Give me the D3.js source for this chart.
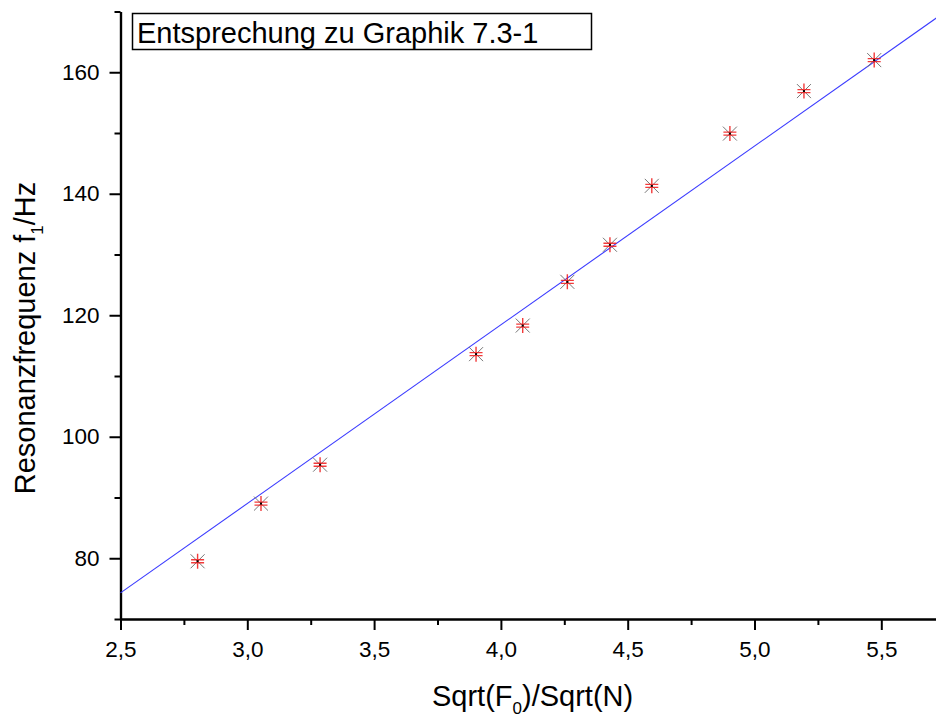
<!doctype html>
<html lang="de">
<head>
  <meta charset="UTF-8">
  <title>Resonanzfrequenz</title>
  <style type="text/css">
    body { margin: 0; background: #fff; }
    text { font-family: "Liberation Sans", Arial, sans-serif; fill: #000; }
  </style>
  <script src="https://cdn.jsdelivr.net/npm/d3@7/dist/d3.min.js"></script>
</head>
<body>
  <div id="container"></div>
  <script>
    // Messwerte
    var sqrtRatio = [2.804, 3.054, 3.287, 3.902, 4.086, 4.262, 4.430, 4.595, 4.903, 5.195, 5.472];
    var freq = [79.5, 89.0, 95.4, 113.6, 118.3, 125.5, 131.6, 141.3, 149.9, 156.9, 162.0];
    // lineare Regression (Endpunkte)
    var fitX = [2.5, 5.75];
    var fitY = [74.3, 169.9];
    var xMajor = [2.5, 3.0, 3.5, 4.0, 4.5, 5.0, 5.5];
    var xMinor = [2.75, 3.25, 3.75, 4.25, 4.75, 5.25, 5.75];
    var yMajor = [80, 100, 120, 140, 160];
    var yMinor = [70, 90, 110, 130, 150, 170];

    var width = 936, height = 718;
    var pLeft = 120.5, pRight = 944.7, pTop = 11.5, pBottom = 619;

    var svg = d3.select('#container').append('svg').attr('width', width).attr('height', height);

    var x = d3.scaleLinear().domain([2.5, 5.75]).range([pLeft, pRight]);
    var y = d3.scaleLinear().domain([70, 170]).range([pBottom, pTop]);
    var comma = function (d) { return d3.format('.1f')(d).replace('.', ','); };

    // Achsen (Neben- und Hauptstriche getrennt)
    svg.append('g').attr('transform', 'translate(0,' + pBottom + ')')
      .call(d3.axisBottom(x).tickValues(xMinor).tickSize(6).tickSizeOuter(0).tickFormat(''));
    var gx = svg.append('g').attr('transform', 'translate(0,' + pBottom + ')')
      .call(d3.axisBottom(x).tickValues(xMajor).tickSize(11).tickSizeOuter(0).tickFormat(comma));
    svg.append('g').attr('transform', 'translate(' + pLeft + ',0)')
      .call(d3.axisLeft(y).tickValues(yMinor).tickSize(6).tickSizeOuter(0).tickFormat(''));
    var gy = svg.append('g').attr('transform', 'translate(' + pLeft + ',0)')
      .call(d3.axisLeft(y).tickValues(yMajor).tickSize(11).tickSizeOuter(0));

    svg.selectAll('.domain').attr('stroke', '#000').attr('stroke-width', 2.2);
    svg.selectAll('.tick line').attr('stroke', '#000').attr('stroke-width', 2);
    gx.attr('font-size', 22.5).attr('font-family', '"Liberation Sans", Arial, sans-serif');
    gy.attr('font-size', 22.5).attr('font-family', '"Liberation Sans", Arial, sans-serif');
    gx.selectAll('.tick text').attr('y', 22).attr('fill', '#000');
    gy.selectAll('.tick text').attr('x', -21).attr('fill', '#000');

    // Ausgleichsgerade
    var line = d3.line().x(function (d) { return x(d[0]); }).y(function (d) { return y(d[1]); });
    svg.append('path').attr('d', line(d3.zip(fitX, fitY)))
      .attr('fill', 'none').attr('stroke', '#3b3bff').attr('stroke-width', 1.1);

    // Messpunkte
    var pts = svg.append('g').selectAll('g').data(d3.zip(sqrtRatio, freq)).enter().append('g')
      .attr('transform', function (d) { return 'translate(' + x(d[0]) + ',' + y(d[1]) + ')'; });
    pts.append('path').attr('d', 'M-7,-7L7,7M-7,7L7,-7').attr('stroke', '#777').attr('stroke-width', 1);
    pts.append('path').attr('d', 'M0,-7.5L0,7.5M-6.5,-1.5L6.5,-1.5M-6.5,1.5L6.5,1.5')
      .attr('stroke', '#f01818').attr('stroke-width', 1.4).attr('stroke-opacity', 0.85);
    pts.append('rect').attr('x', -1).attr('y', -1).attr('width', 2).attr('height', 2).attr('fill', '#000');

    // Titelkasten
    svg.append('rect').attr('x', 132.5).attr('y', 13.5).attr('width', 459).attr('height', 36)
      .attr('fill', '#fff').attr('stroke', '#000').attr('stroke-width', 1.5);
    svg.append('text').attr('x', 137).attr('y', 43).style('font-size', '29px').text('Entsprechung zu Graphik 7.3-1');

    // Achsentitel
    var xt = svg.append('text').attr('x', (pLeft + pRight) / 2).attr('y', 706).attr('text-anchor', 'middle').style('font-size', '29px');
    xt.append('tspan').text('Sqrt(F');
    xt.append('tspan').attr('dy', 8).style('font-size', '17px').text('0');
    xt.append('tspan').attr('dy', -8).text(')/Sqrt(N)');

    var yt = svg.append('text').attr('transform', 'translate(35,338) rotate(-90)').attr('text-anchor', 'middle').style('font-size', '29px');
    yt.append('tspan').text('Resonanzfrequenz f');
    yt.append('tspan').attr('dy', 8).style('font-size', '17px').text('1');
    yt.append('tspan').attr('dy', -8).text('/Hz');
  </script>
</body>
</html>
